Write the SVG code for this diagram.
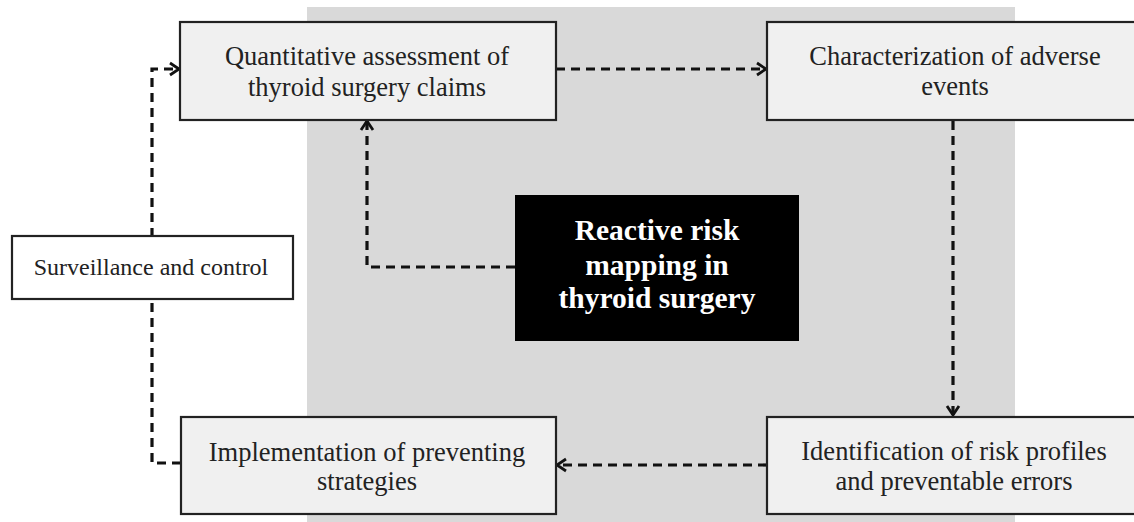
<svg xmlns="http://www.w3.org/2000/svg" width="1134" height="522" viewBox="0 0 1134 522">
<style>
.box{fill:#f0f0f0;stroke:#222;stroke-width:2.2}
.wbox{fill:#ffffff;stroke:#222;stroke-width:2.2}
.t{font-family:"Liberation Serif","Times New Roman",serif;font-size:26.5px;fill:#222;text-anchor:middle}
.ts{font-family:"Liberation Serif","Times New Roman",serif;font-size:24px;fill:#222;text-anchor:middle}
.tb{font-family:"Liberation Serif","Times New Roman",serif;font-size:29.5px;font-weight:bold;fill:#fff;text-anchor:middle}
.c{fill:none;stroke:#111;stroke-width:3.2;stroke-dasharray:9 6}
</style>
<defs>
<marker id="arr" markerUnits="userSpaceOnUse" markerWidth="14" markerHeight="16" refX="10" refY="7" orient="auto" viewBox="0 0 14 14">
<path d="M1,1 L10,7 L1,13" fill="none" stroke="#111" stroke-width="2.8"/>
</marker>
</defs>
<rect x="0" y="0" width="1134" height="522" fill="#ffffff"/>
<rect x="307" y="7" width="708" height="515" fill="#d9d9d9"/>
<g id="connectors">
<path class="c" d="M556,69 H766" marker-end="url(#arr)"/>
<path class="c" d="M953,121 V415" marker-end="url(#arr)"/>
<path class="c" d="M767,465 H557" marker-end="url(#arr)"/>
<path class="c" d="M181,463 H152 V69 H179" marker-end="url(#arr)"/>
<path class="c" d="M515,267 H367 V121" marker-end="url(#arr)"/>
</g>
<g id="node-quantitative">
<rect class="box" x="180" y="22" width="376" height="98"/>
<text class="t" x="367" y="65">Quantitative assessment of</text>
<text class="t" x="367" y="96">thyroid surgery claims</text>
</g>
<g id="node-characterization">
<rect class="box" x="767" y="22" width="380" height="98"/>
<text class="t" x="955" y="65">Characterization of adverse</text>
<text class="t" x="955" y="95">events</text>
</g>
<g id="node-surveillance">
<rect class="wbox" x="12" y="236" width="281" height="63"/>
<text class="ts" x="151" y="275">Surveillance and control</text>
</g>
<g id="node-center">
<rect x="515" y="195" width="284" height="146" fill="#000"/>
<text class="tb" x="657" y="240">Reactive risk</text>
<text class="tb" x="657" y="275">mapping in</text>
<text class="tb" x="657" y="308">thyroid surgery</text>
</g>
<g id="node-implementation">
<rect class="box" x="181" y="417" width="375" height="97"/>
<text class="t" x="367" y="461">Implementation of preventing</text>
<text class="t" x="367" y="490">strategies</text>
</g>
<g id="node-identification">
<rect class="box" x="767" y="417" width="380" height="97"/>
<text class="t" x="954" y="460">Identification of risk profiles</text>
<text class="t" x="954" y="490">and preventable errors</text>
</g>
</svg>
